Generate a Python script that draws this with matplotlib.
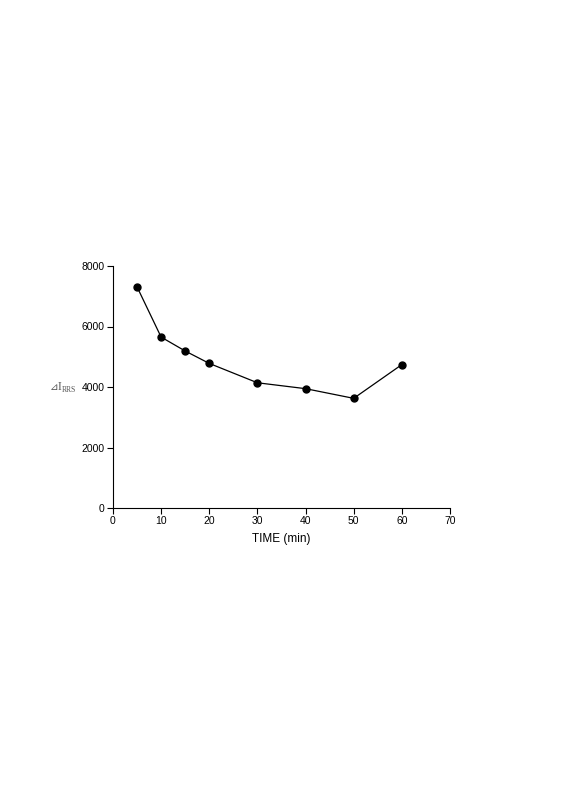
import matplotlib
matplotlib.use("Agg")
import matplotlib.pyplot as plt

time_min = [5, 10, 15, 20, 30, 40, 50, 60]
delta_i = [7310, 5650, 5190, 4780, 4140, 3945, 3625, 4740]

plt.rcParams['font.family'] = ['Liberation Sans', 'DejaVu Sans']

fig = plt.figure(figsize=(5.66, 8), dpi=100)
ax = fig.add_axes([0.1996, 0.365, 0.5954, 0.3025])

ax.plot(time_min, delta_i, color='black', linewidth=0.9, marker='o',
        markersize=5, markerfacecolor='black')

ax.set_xlim(0, 70)
ax.set_ylim(0, 8000)
ax.set_xticks(range(0, 71, 10))
ax.set_yticks(range(0, 8001, 2000))
ax.spines['top'].set_visible(False)
ax.spines['right'].set_visible(False)
ax.spines['left'].set_linewidth(0.8)
ax.spines['bottom'].set_linewidth(0.8)
ax.tick_params(direction='out', length=4, width=0.8, labelsize=7.5, pad=2)

ax.set_xlabel('TIME (min)', fontsize=8.5, labelpad=5)

# y label: delta symbol + I with subscript RRS
fig.text(0.088, 0.516, '⊿', fontsize=7.5, color='#555555',
         family='DejaVu Sans', va='center', ha='left')
fig.text(0.102, 0.516, 'I', fontsize=8.5, color='#555555',
         family='Liberation Serif', va='center', ha='left')
fig.text(0.109, 0.513, 'RRS', fontsize=5.5, color='#555555',
         family='Liberation Serif', va='center', ha='left')

fig.savefig('out.png', dpi=100)
